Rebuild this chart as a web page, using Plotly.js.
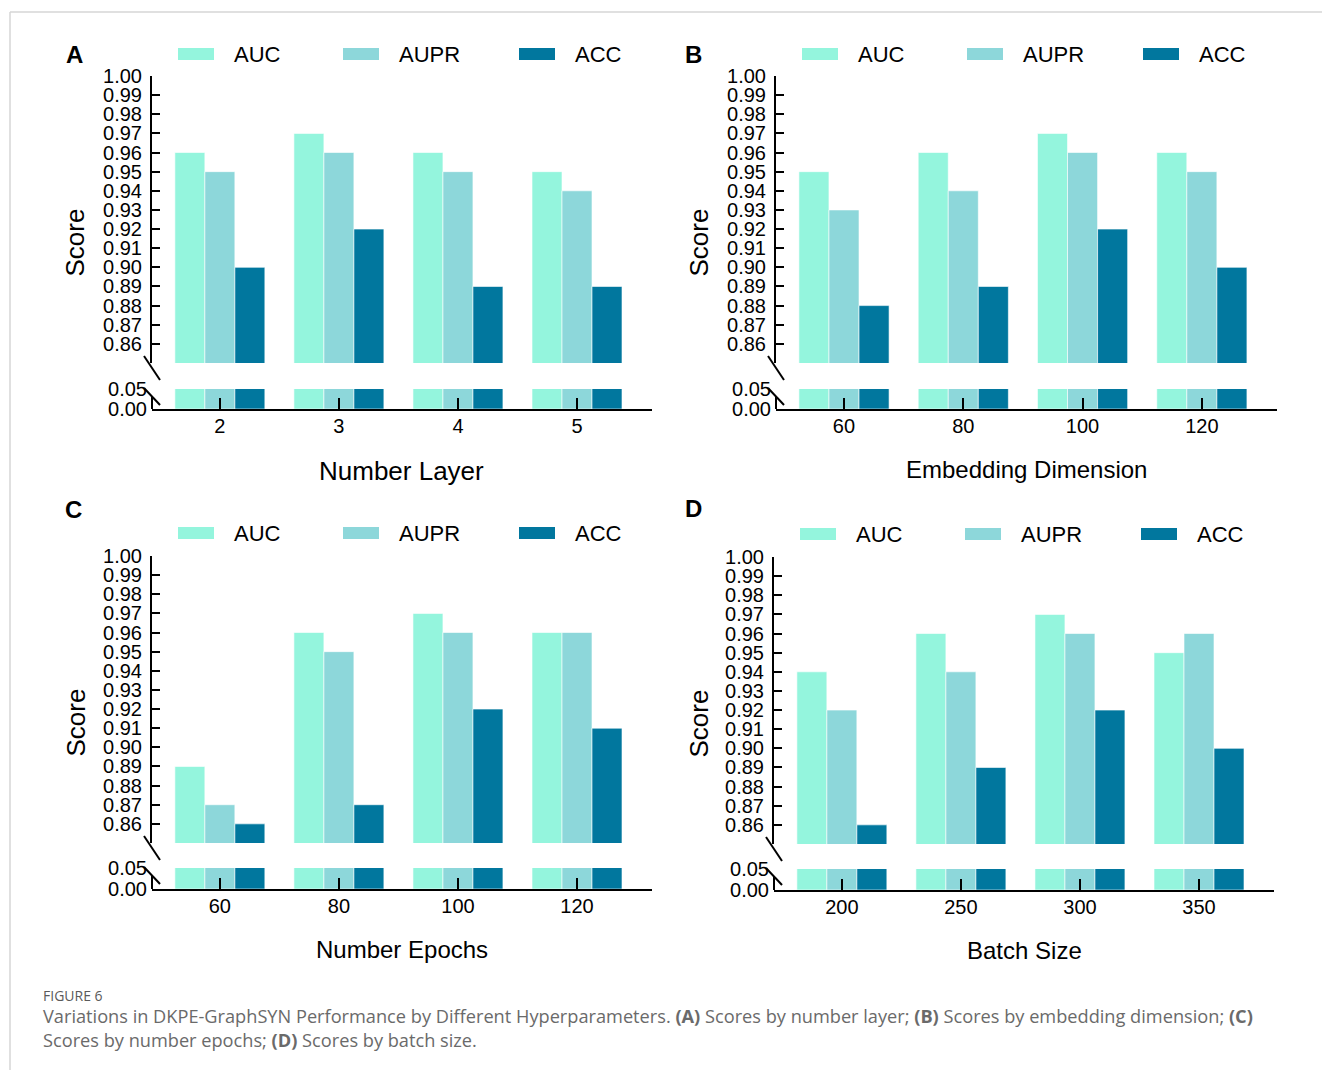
<!DOCTYPE html>
<html><head><meta charset="utf-8">
<script src="https://cdn.plot.ly/plotly-3.0.1.min.js"></script>
<style>html,body{margin:0;padding:0;background:#fff;} #chart{width:1322px;height:1070px;}</style>
</head><body><div id="chart"></div>
<script>
// ---------- data ----------
const seriesNames = ['AUC', 'AUPR', 'ACC'];
const seriesColors = ['#94F5DD', '#8DD7DA', '#01779E'];
const panelLetters = ['A', 'B', 'C', 'D'];
const panelTitles = ['Number Layer', 'Embedding Dimension', 'Number Epochs', 'Batch Size'];
const yTitle = 'Score';

const categoriesA = ['2', '3', '4', '5'];
const aucA  = [0.96, 0.97, 0.96, 0.95];
const auprA = [0.95, 0.96, 0.95, 0.94];
const accA  = [0.90, 0.92, 0.89, 0.89];

const categoriesB = ['60', '80', '100', '120'];
const aucB  = [0.95, 0.96, 0.97, 0.96];
const auprB = [0.93, 0.94, 0.96, 0.95];
const accB  = [0.88, 0.89, 0.92, 0.90];

const categoriesC = ['60', '80', '100', '120'];
const aucC  = [0.89, 0.96, 0.97, 0.96];
const auprC = [0.87, 0.95, 0.96, 0.96];
const accC  = [0.86, 0.87, 0.92, 0.91];

const categoriesD = ['200', '250', '300', '350'];
const aucD  = [0.94, 0.96, 0.97, 0.95];
const auprD = [0.92, 0.94, 0.96, 0.96];
const accD  = [0.86, 0.89, 0.92, 0.90];

const upperTickVals = [0.86, 0.87, 0.88, 0.89, 0.90, 0.91, 0.92, 0.93, 0.94, 0.95, 0.96, 0.97, 0.98, 0.99, 1.00];
const lowerTickVals = [0.00, 0.05];
const upperRange = [0.85, 1.00];
const lowerRange = [0.00, 0.05];

const captionHead = 'FIGURE 6';
const captionLine1 = 'Variations in DKPE-GraphSYN Performance by Different Hyperparameters. <b>(A)</b> Scores by number layer; <b>(B)</b> Scores by embedding dimension; <b>(C)</b>';
const captionLine2 = 'Scores by number epochs; <b>(D)</b> Scores by batch size.';

// ---------- layout geometry (pixels) ----------
const W = 1322, H = 1070;
const px = v => v / W;
const py = v => 1 - v / H;

const panelData = [
  {cats: categoriesA, vals: [aucA, auprA, accA]},
  {cats: categoriesB, vals: [aucB, auprB, accB]},
  {cats: categoriesC, vals: [aucC, auprC, accC]},
  {cats: categoriesD, vals: [aucD, auprD, accD]}
];
const geo = [
  {left: 152, right: 652, top: 76, upB: 363, lowT: 389, bot: 409, legY: 54, letX: 74, letY: 55, titY: 471, titS: 26, scoreX: 75},
  {left: 776, right: 1277, top: 76, upB: 363, lowT: 389, bot: 409, legY: 54, letX: 693, letY: 55, titY: 470, titS: 24, scoreX: 699},
  {left: 152, right: 652, top: 556, upB: 843, lowT: 868, bot: 889, legY: 533, letX: 73, letY: 510, titY: 949, titS: 24, scoreX: 75},
  {left: 774, right: 1274, top: 557, upB: 844, lowT: 869, bot: 890, legY: 534, letX: 693, letY: 509, titY: 950, titS: 24, scoreX: 698}
];
const legendOffsets = [26, 191, 367];

const FONT = 'Liberation Sans, Arial, sans-serif';
const traces = [];
const layout = {
  width: W, height: H,
  margin: {l: 0, r: 0, t: 0, b: 0},
  paper_bgcolor: '#fff', plot_bgcolor: 'rgba(0,0,0,0)',
  barmode: 'group', bargap: 0.244, bargroupgap: 0,
  showlegend: false,
  font: {family: FONT, color: '#000'},
  shapes: [], annotations: []
};

const axId = (p, n) => (n === 1 ? p : p + n);

panelData.forEach((pd, i) => {
  const g = geo[i];
  const xn = i + 1, yu = 2 * i + 1, yl = 2 * i + 2;
  const xs = axId('x', xn), yus = axId('y', yu), yls = axId('y', yl);
  pd.vals.forEach((v, s) => {
    [yus, yls].forEach(ya => {
      traces.push({
        type: 'bar', x: pd.cats, y: v, name: seriesNames[s],
        xaxis: xs, yaxis: ya,
        marker: {color: seriesColors[s], line: {color: 'rgba(255,255,255,0.6)', width: 1}},
        hoverinfo: 'x+y+name'
      });
    });
  });
  layout[axId('xaxis', xn)] = {
    domain: [px(g.left), px(g.right)], anchor: yls, type: 'category',
    range: [-0.57, 3.63], showline: true, linecolor: '#000', linewidth: 2,
    ticks: 'inside', ticklen: 11, tickwidth: 2, tickcolor: '#000',
    ticklabelstandoff: -2,
    tickfont: {size: 20, family: FONT}, showgrid: false, zeroline: false, fixedrange: true
  };
  layout[axId('yaxis', yu)] = {
    domain: [py(g.upB), py(g.top)], anchor: xs, range: upperRange,
    tickvals: upperTickVals, tickformat: '.2f',
    showline: true, linecolor: '#000', linewidth: 2,
    ticks: 'inside', ticklen: 8, tickwidth: 2, tickcolor: '#000',
    ticklabelstandoff: 4,
    tickfont: {size: 20, family: FONT}, showgrid: false, zeroline: false, fixedrange: true
  };
  layout[axId('yaxis', yl)] = {
    domain: [py(g.bot), py(g.lowT)], anchor: xs, range: lowerRange,
    tickvals: lowerTickVals, tickformat: '.2f',
    showline: false, ticks: '', ticklabelstandoff: 4,
    tickfont: {size: 20, family: FONT}, showgrid: false, zeroline: false, fixedrange: true
  };
  // lower y axis line segment + break slashes
  const lineStyle = {color: '#000', width: 2};
  layout.shapes.push({type: 'line', xref: 'paper', yref: 'paper', x0: px(g.left), x1: px(g.left), y0: py(g.lowT + 7), y1: py(g.bot), line: lineStyle});
  layout.shapes.push({type: 'line', xref: 'paper', yref: 'paper', x0: px(g.left - 8), x1: px(g.left + 8), y0: py(g.upB - 7), y1: py(g.upB + 17), line: lineStyle});
  layout.shapes.push({type: 'line', xref: 'paper', yref: 'paper', x0: px(g.left - 8), x1: px(g.left + 8), y0: py(g.lowT - 1), y1: py(g.lowT + 16), line: lineStyle});
  // legend
  seriesNames.forEach((nm, s) => {
    const x0 = g.left + legendOffsets[s];
    layout.shapes.push({type: 'rect', xref: 'paper', yref: 'paper', x0: px(x0), x1: px(x0 + 36), y0: py(g.legY + 6), y1: py(g.legY - 6), fillcolor: seriesColors[s], line: {width: 0}});
    layout.annotations.push({text: nm, xref: 'paper', yref: 'paper', x: px(x0 + 54), y: py(g.legY), xanchor: 'left', yanchor: 'middle', showarrow: false, font: {size: 22, family: FONT, color: '#000'}});
  });
  // panel letter
  layout.annotations.push({text: '<b>' + panelLetters[i] + '</b>', xref: 'paper', yref: 'paper', x: px(g.letX), y: py(g.letY), xanchor: 'center', yanchor: 'middle', showarrow: false, font: {size: 24, family: FONT, color: '#000'}});
  // x title
  layout.annotations.push({text: panelTitles[i], xref: 'paper', yref: 'paper', x: px((g.left + g.right) / 2), y: py(g.titY), xanchor: 'center', yanchor: 'middle', showarrow: false, font: {size: g.titS, family: FONT, color: '#000'}});
  // y title
  layout.annotations.push({text: yTitle, xref: 'paper', yref: 'paper', x: px(g.scoreX), y: py((g.top + g.bot) / 2), xanchor: 'center', yanchor: 'middle', textangle: -90, showarrow: false, font: {size: 26, family: FONT, color: '#000'}});
});

// frame
layout.shapes.push({type: 'line', xref: 'paper', yref: 'paper', x0: px(10), x1: 1, y0: py(12), y1: py(12), line: {color: '#d6d6d6', width: 1.5}});
layout.shapes.push({type: 'line', xref: 'paper', yref: 'paper', x0: px(10), x1: px(10), y0: py(12), y1: 0, line: {color: '#d6d6d6', width: 1.5}});

// caption
const CAPFONT = 'Open Sans, Noto Sans, sans-serif';
layout.annotations.push({text: captionHead, xref: 'paper', yref: 'paper', x: px(41), y: py(995), xanchor: 'left', yanchor: 'middle', showarrow: false, font: {size: 14, family: CAPFONT, color: '#5a5a5a'}});
layout.annotations.push({text: captionLine1, xref: 'paper', yref: 'paper', x: px(41), y: py(1016), xanchor: 'left', yanchor: 'middle', showarrow: false, font: {size: 18.2, family: CAPFONT, color: '#6a6a6a'}});
layout.annotations.push({text: captionLine2, xref: 'paper', yref: 'paper', x: px(41), y: py(1040), xanchor: 'left', yanchor: 'middle', showarrow: false, font: {size: 18.2, family: CAPFONT, color: '#6a6a6a'}});

Plotly.newPlot('chart', traces, layout, {displayModeBar: false, staticPlot: true});
</script>
</body></html>
